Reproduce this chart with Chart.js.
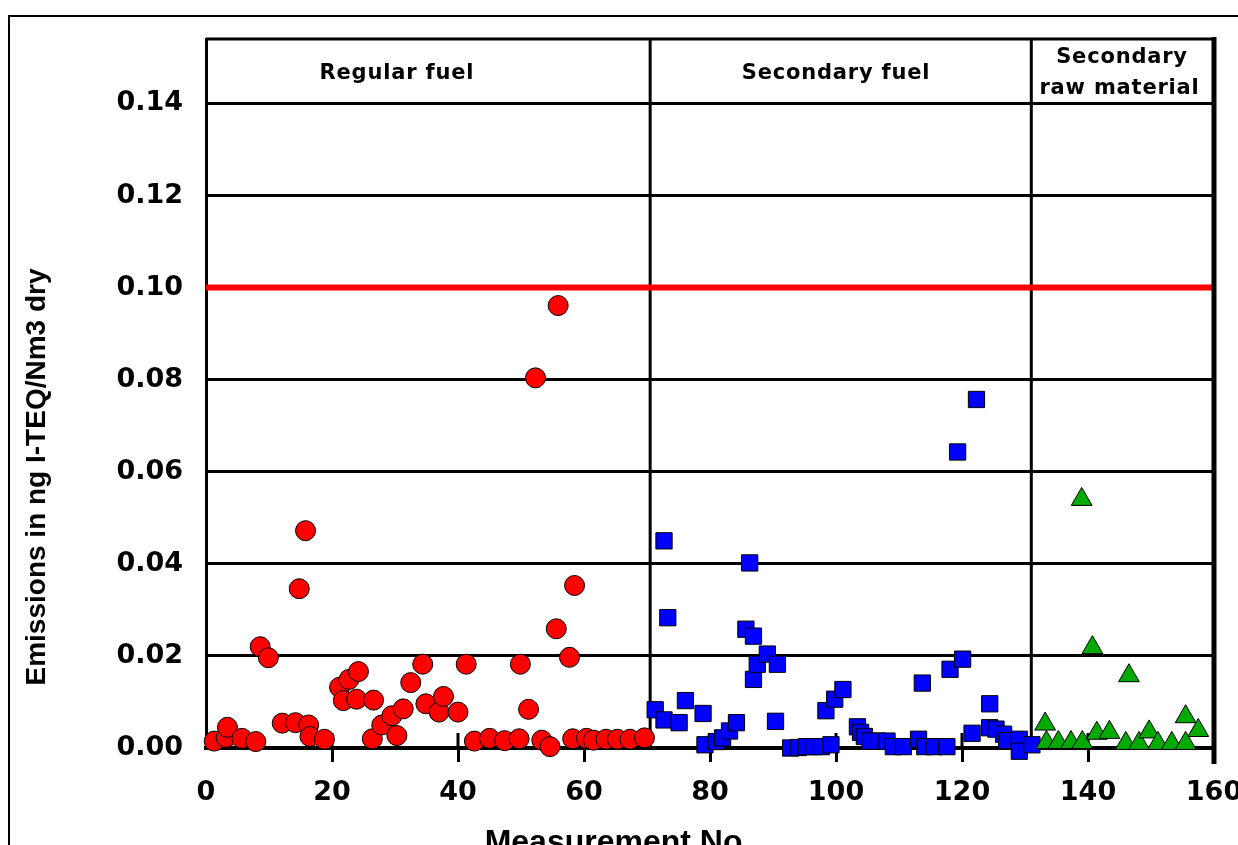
<!DOCTYPE html>
<html>
<head>
<meta charset="utf-8">
<script src="https://cdn.jsdelivr.net/npm/chart.js@4.4.1/dist/chart.umd.min.js"></script>
<style>
  html, body { margin: 0; padding: 0; background: #fff; overflow: hidden; }
  #wrap { position: relative; width: 1238px; height: 845px; }
  #frame { position: absolute; left: 8px; top: 15px; width: 1300px; height: 900px; border-left: 2px solid #000; border-top: 2px solid #000; }
  canvas { position: absolute; left: 0; top: 0; }
</style>
</head>
<body>
<div id="wrap">
  <div id="frame"></div>
  <canvas id="emissionsChart" width="1238" height="845"></canvas>
</div>
<script>
// measurement numbers and emissions (ng I-TEQ/Nm3 dry)
const regularX = [1.3, 3.2, 3.4, 5.7, 7.9, 8.6, 9.9, 12.1, 14.2, 14.8, 15.8, 16.3, 16.5, 18.8,
  21.2, 21.8, 22.7, 23.9, 24.2, 26.4, 26.6, 27.9, 29.5, 30.3, 31.3, 32.5, 34.4, 34.9, 37.0, 37.7,
  40.0, 41.3, 42.6, 45.0, 47.4, 49.7, 49.9, 51.2, 52.3, 53.3, 54.6, 55.6, 55.9, 57.7, 58.2, 58.5,
  60.4, 61.5, 63.5, 65.3, 67.3, 69.6];
const regularY = [0.0015, 0.0023, 0.0045, 0.0021, 0.0014, 0.0220, 0.0196, 0.0054, 0.0055, 0.0346, 0.0472, 0.0050, 0.0025, 0.0019,
  0.0132, 0.0103, 0.0149, 0.0106, 0.0166, 0.0020, 0.0104, 0.0050, 0.0070, 0.0027, 0.0085, 0.0142, 0.0182, 0.0096, 0.0078, 0.0112,
  0.0078, 0.0182, 0.0015, 0.0021, 0.0016, 0.0020, 0.0182, 0.0084, 0.0804, 0.0017, 0.0003, 0.0259, 0.0961, 0.0197, 0.0020, 0.0353,
  0.0021, 0.0017, 0.0019, 0.0019, 0.0019, 0.0022];

const secondaryFuelX = [71.3, 72.7, 72.7, 73.3, 75.1, 76.1, 78.9, 79.2, 81.0, 82.0, 83.1, 84.2, 85.7, 86.3, 86.9, 86.9,
  87.5, 89.1, 90.4, 90.7, 92.8, 94.0, 95.3, 96.5, 97.7, 98.4, 99.2, 99.8, 101.1, 103.4, 103.9, 104.5,
  105.4, 106.6, 108.1, 109.1, 110.7, 113.1, 113.7, 114.1, 115.6, 117.6, 118.1, 119.3, 120.1, 121.6,
  122.3, 124.4, 124.4, 125.4, 126.6, 127.1, 129.1, 129.1, 131.1];
const secondaryFuelY = [0.0083, 0.0450, 0.0061, 0.0283, 0.0055, 0.0103, 0.0075, 0.0007, 0.0014, 0.0022, 0.0037, 0.0055, 0.0258, 0.0402, 0.0243, 0.0149,
  0.0182, 0.0204, 0.0058, 0.0182, 0.0000, 0.0001, 0.0003, 0.0003, 0.0003, 0.0081, 0.0007, 0.0106, 0.0127, 0.0046, 0.0034, 0.0025,
  0.0015, 0.0015, 0.0015, 0.0003, 0.0003, 0.0019, 0.0141, 0.0003, 0.0003, 0.0003, 0.0171, 0.0643, 0.0193, 0.0032,
  0.0757, 0.0096, 0.0044, 0.0041, 0.0030, 0.0016, 0.0019, -0.0007, 0.0007];

const rawMaterialX = [133.2, 133.4, 135.3, 137.3, 139.0, 139.1, 140.7, 141.4, 143.4, 146.0, 146.5, 148.1, 149.7, 151.1, 153.3, 155.5, 155.5, 157.5];
const rawMaterialY = [0.0052, 0.0012, 0.0012, 0.0012, 0.0540, 0.0012, 0.0218, 0.0032, 0.0034, 0.0010, 0.0157, 0.0010, 0.0035, 0.0010, 0.0010, 0.0068, 0.0010, 0.0038];

const limitValue = 0.10;
const sectionBounds = [70.5, 131];
const xTicks = [0, 20, 40, 60, 80, 100, 120, 140, 160];
const yTicks = [0, 0.02, 0.04, 0.06, 0.08, 0.10, 0.12, 0.14];

const toPoints = (xs, ys) => xs.map((x, i) => ({ x, y: ys[i] }));

const tickFont = { family: 'DejaVu Sans', weight: 'bold', size: 27 };

const decorations = {
  id: 'decorations',
  beforeDatasetsDraw(chart) {
    const { ctx, chartArea: a, scales: { x } } = chart;
    ctx.save();
    ctx.strokeStyle = '#000';
    ctx.lineWidth = 3;
    ctx.beginPath();
    sectionBounds.forEach(v => {
      const px = x.getPixelForValue(v);
      ctx.moveTo(px, a.top);
      ctx.lineTo(px, a.bottom);
    });
    // tick marks also poke up into the plot
    xTicks.slice(1).forEach(v => {
      const px = x.getPixelForValue(v);
      ctx.moveTo(px, a.bottom - 15);
      ctx.lineTo(px, a.bottom);
    });
    ctx.moveTo(a.left, a.top);
    ctx.lineTo(a.right, a.top);
    ctx.stroke();
    ctx.restore();
  },
  afterDraw(chart) {
    const { ctx, chartArea: a, scales: { x } } = chart;
    ctx.save();
    ctx.strokeStyle = '#000';
    ctx.lineWidth = 5;
    ctx.beginPath();
    ctx.moveTo(a.right, a.top - 2);
    ctx.lineTo(a.right, a.bottom + 16);
    ctx.stroke();

    ctx.fillStyle = '#000';
    ctx.textAlign = 'center';
    ctx.textBaseline = 'middle';
    ctx.font = 'bold 21px "DejaVu Sans"';
    ctx.letterSpacing = '0.8px';
    ctx.fillText('Regular fuel', x.getPixelForValue(30.3), 74);
    ctx.fillText('Secondary fuel', x.getPixelForValue(100), 74);
    ctx.fillText('Secondary', x.getPixelForValue(145.4), 58);
    ctx.fillText('raw material', x.getPixelForValue(145), 89);
    ctx.letterSpacing = '0px';

    ctx.font = 'bold 32px "Liberation Sans"';
    ctx.textBaseline = 'alphabetic';
    ctx.fillText('Measurement No.', 618, 852);

    ctx.translate(37, 477);
    ctx.rotate(-Math.PI / 2);
    ctx.font = 'bold 28px "Liberation Sans"';
    ctx.textBaseline = 'middle';
    ctx.fillText('Emissions in ng I-TEQ/Nm3 dry', 0, 0);
    ctx.restore();
  }
};

new Chart(document.getElementById('emissionsChart'), {
  type: 'scatter',
  data: {
    datasets: [
      {
        label: 'Limit',
        data: [{ x: 0, y: limitValue }, { x: 160, y: limitValue }],
        showLine: true,
        borderColor: '#ff0000',
        borderWidth: 6,
        pointRadius: 0,
        order: 4
      },
      {
        label: 'Regular fuel',
        data: toPoints(regularX, regularY),
        pointStyle: 'circle',
        pointRadius: 10,
        backgroundColor: '#ff0000',
        borderColor: '#000',
        borderWidth: 1,
        order: 3
      },
      {
        label: 'Secondary fuel',
        data: toPoints(secondaryFuelX, secondaryFuelY),
        pointStyle: 'rect',
        pointRadius: 11.5,
        backgroundColor: '#0000ff',
        borderColor: '#000',
        borderWidth: 1,
        order: 2
      },
      {
        label: 'Secondary raw material',
        data: toPoints(rawMaterialX, rawMaterialY),
        pointStyle: 'triangle',
        pointRadius: 12,
        backgroundColor: '#00aa00',
        borderColor: '#000',
        borderWidth: 1,
        order: 1
      }
    ]
  },
  options: {
    responsive: false,
    animation: false,
    clip: false,
    layout: { padding: { top: 39, right: 24, left: 0, bottom: 0 } },
    plugins: { legend: { display: false }, tooltip: { enabled: false } },
    scales: {
      x: {
        type: 'linear',
        min: 0,
        max: 160,
        afterBuildTicks: s => { s.ticks = xTicks.map(v => ({ value: v })); },
        afterFit: s => { s.height = 97; s.paddingLeft = 0; s.paddingRight = 0; },
        grid: {
          drawOnChartArea: false,
          color: c => (c.tick && c.tick.value === 0 ? 'rgba(0,0,0,0)' : '#000'),
          lineWidth: 3,
          tickLength: 14
        },
        border: { color: '#000', width: 4 },
        ticks: { padding: 15, color: '#000', font: tickFont, maxRotation: 0, autoSkip: false }
      },
      y: {
        min: 0,
        max: 0.154,
        afterBuildTicks: s => { s.ticks = yTicks.map(v => ({ value: v })); },
        afterFit: s => { s.width = 206; s.paddingTop = 0; s.paddingBottom = 0; },
        grid: { color: '#000', lineWidth: 3, drawTicks: false },
        border: { color: '#000', width: 3 },
        ticks: { padding: 23, color: '#000', font: tickFont, callback: v => v.toFixed(2) }
      }
    }
  },
  plugins: [decorations]
});
</script>
</body>
</html>
